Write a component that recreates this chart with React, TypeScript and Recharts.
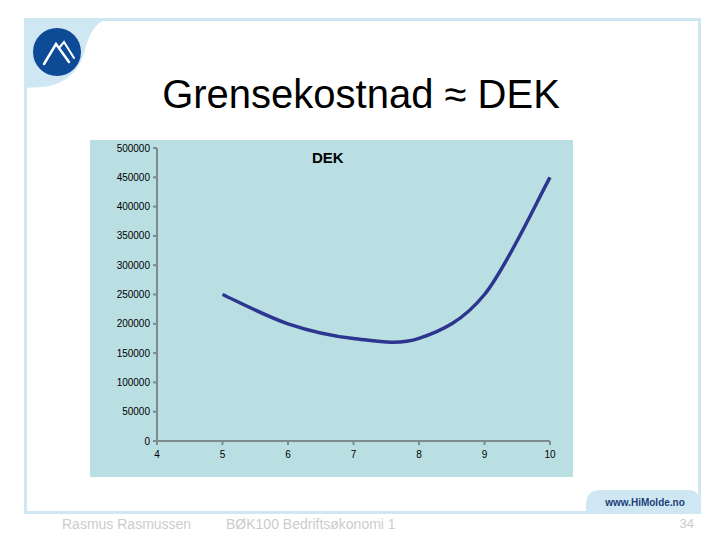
import { LineChart, Line, XAxis, YAxis } from 'recharts';

const quantity = [5, 6, 7, 8, 9, 10];
const dekValues = [250000, 200000, 175000, 175000, 250000, 450000];
const xTicks = [4, 5, 6, 7, 8, 9, 10];
const yTicks = [0, 50000, 100000, 150000, 200000, 250000, 300000, 350000, 400000, 450000, 500000];

const data = quantity.map((q, i) => ({ q, dek: dekValues[i] }));

// Excel-style smoothed line (cardinal spline, tension 0)
const smoothCurve = (context: any) => {
  let xs: number[] = [];
  let ys: number[] = [];
  return {
    areaStart() {},
    areaEnd() {},
    lineStart() {
      xs = [];
      ys = [];
    },
    point(x: number, y: number) {
      xs.push(+x);
      ys.push(+y);
    },
    lineEnd() {
      const n = xs.length;
      if (!n) return;
      context.moveTo(xs[0], ys[0]);
      for (let i = 0; i < n - 1; i++) {
        const a = Math.max(i - 1, 0);
        const d = Math.min(i + 2, n - 1);
        const c1x = xs[i] + (xs[i + 1] - xs[a]) / 6;
        const c1y = ys[i] + (ys[i + 1] - ys[a]) / 6;
        const c2x = xs[i + 1] - (xs[d] - xs[i]) / 6;
        const c2y = ys[i + 1] - (ys[d] - ys[i]) / 6;
        context.bezierCurveTo(c1x, c1y, c2x, c2y, xs[i + 1], ys[i + 1]);
      }
    },
  };
};

const font = '"Liberation Sans", Arial, sans-serif';
const frameBlue = '#cfe6f3';

const App = () => {
  return (
    <div style={{ position: 'absolute', left: 0, top: 0, width: 720, height: 540, background: '#fff', fontFamily: font, overflow: 'hidden' }}>
      <svg width={720} height={540} style={{ position: 'absolute', left: 0, top: 0 }}>
        <rect x={25.5} y={19.5} width={674} height={493} fill="none" stroke={frameBlue} strokeWidth={3} />
        <path d="M24,22 Q24,18 30,18 L112,18 C96,20 89,34 85,50 C80,70 66,85 42,87 L24,88 Z" fill={frameBlue} />
        <circle cx={57} cy={52} r={24} fill="#0d4b96" />
        <polyline points="44,64 56,44 69,62" fill="none" stroke="#fff" strokeWidth={2.5} strokeLinecap="round" />
        <polyline points="59,48 64,42 74,58" fill="none" stroke="#fff" strokeWidth={2} strokeLinecap="round" />
        <path d="M586,513 L586,505 Q586,490 601,490 L688,490 Q699,490 699,500 L699,513 Z" fill={frameBlue} />
        <text x={645} y={506} textAnchor="middle" fontSize={10} fontWeight="bold" fill="#1b3f7a" fontFamily={font}>www.HiMolde.no</text>
        <text x={361} y={108} textAnchor="middle" fontSize={40} fill="#000" fontFamily={font}>Grensekostnad ≈ DEK</text>
        <text x={62} y={529} fontSize={14} fill="#cccccc" fontFamily={font}>Rasmus Rasmussen</text>
        <text x={226} y={529} fontSize={14} fill="#cccccc" fontFamily={font}>BØK100 Bedriftsøkonomi 1</text>
        <text x={694} y={528} textAnchor="end" fontSize={13} fill="#cccccc" fontFamily={font}>34</text>
      </svg>
      <div style={{ position: 'absolute', left: 90, top: 140, width: 483, height: 337, background: '#badfe3' }}>
        <div style={{ position: 'absolute', left: 222, top: 9, fontSize: 15, fontWeight: 'bold', fontFamily: font, color: '#000' }}>DEK</div>
        <LineChart width={483} height={337} data={data} margin={{ top: 8, right: 23, left: 7, bottom: 6 }}>
          <XAxis
            dataKey="q"
            type="number"
            domain={[4, 10]}
            ticks={xTicks}
            interval={0}
            stroke="#7f8a8d"
            strokeWidth={2}
            tickSize={4}
            tickMargin={6}
            tick={{ fontSize: 10, fill: '#000', fontFamily: font }}
            height={30}
          />
          <YAxis
            type="number"
            domain={[0, 500000]}
            ticks={yTicks}
            interval={0}
            stroke="#7f8a8d"
            strokeWidth={2}
            tickSize={4}
            tickMargin={3}
            tick={{ fontSize: 10, fill: '#000', fontFamily: font }}
            width={60}
          />
          <Line
            dataKey="dek"
            type={smoothCurve as any}
            stroke="#2c3590"
            strokeWidth={3.5}
            dot={false}
            activeDot={false}
            isAnimationActive={false}
          />
        </LineChart>
      </div>
    </div>
  );
};

export default App;
